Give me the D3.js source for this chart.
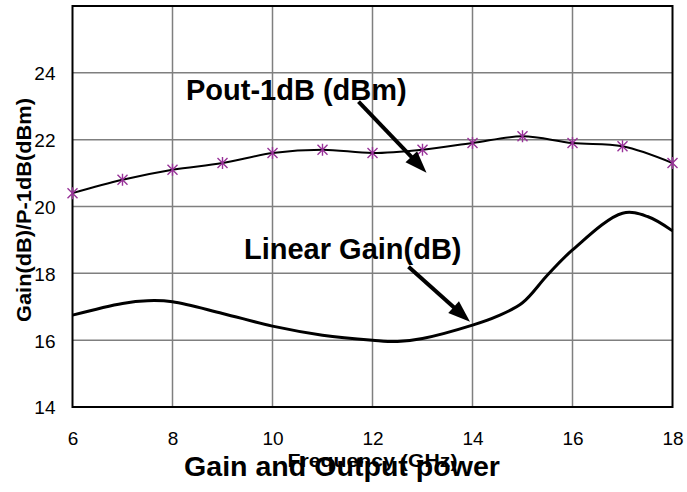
<!DOCTYPE html>
<html>
<head>
<meta charset="utf-8">
<script src="https://cdn.jsdelivr.net/npm/d3@7"></script>
<style>
  html, body { margin: 0; padding: 0; background: #ffffff; }
  svg { display: block; font-family: Arial, "Liberation Sans", sans-serif; }
</style>
</head>
<body>
<svg id="chart" width="687" height="492"></svg>
<script>
// ---- data ----
const poutFreq = [6, 7, 8, 9, 10, 11, 12, 13, 14, 15, 16, 17, 18];
const poutValues = [20.4, 20.8, 21.1, 21.3, 21.6, 21.7, 21.6, 21.7, 21.9, 22.1, 21.9, 21.8, 21.3];
const gainFreq = [6, 7, 7.5, 8, 9, 10, 11, 12, 12.5, 13, 14, 14.5, 15, 15.5, 16, 17, 17.5, 18];
const gainValues = [16.75, 17.1, 17.18, 17.15, 16.8, 16.42, 16.15, 16.0, 15.96, 16.05, 16.45, 16.72, 17.12, 17.95, 18.7, 19.8, 19.7, 19.27];
const xTicks = [6, 8, 10, 12, 14, 16, 18];
const yTicks = [14, 16, 18, 20, 22, 24];
const xDomain = [6, 18];
const yDomain = [14, 26];
const titleText = "Gain and Output power";
const xLabelText = "Frequency (GHz)";
const yLabelText = "Gain(dB)/P-1dB(dBm)";
const poutLabel = { text: "Pout-1dB (dBm)", x: 8.27, y: 23.19, arrow: [[11.72, 23.14], [13.08, 21.01]] };
const gainLabel = { text: "Linear Gain(dB)", x: 9.43, y: 18.43, arrow: [[12.72, 18.2], [13.95, 16.55]] };

// ---- layout ----
const svg = d3.select("#chart");
const x = d3.scaleLinear().domain(xDomain).range([72.5, 672.5]);
const y = d3.scaleLinear().domain(yDomain).range([407, 6]);

svg.append("rect").attr("width", 687).attr("height", 492).attr("fill", "#fff");

// grid
const grid = svg.append("g");
grid.selectAll("line.v").data(xTicks.slice(1, -1)).join("line")
  .attr("x1", d => x(d)).attr("x2", d => x(d))
  .attr("y1", y(yDomain[0])).attr("y2", y(yDomain[1]))
  .attr("stroke", "#7f7f7f").attr("stroke-width", 1.5);
grid.selectAll("line.h").data(yTicks.slice(1)).join("line")
  .attr("x1", x(xDomain[0])).attr("x2", x(xDomain[1]))
  .attr("y1", d => y(d)).attr("y2", d => y(d))
  .attr("stroke", "#7f7f7f").attr("stroke-width", 1.5);

// border
svg.append("rect")
  .attr("x", x(xDomain[0])).attr("y", y(yDomain[1]))
  .attr("width", x(xDomain[1]) - x(xDomain[0]))
  .attr("height", y(yDomain[0]) - y(yDomain[1]))
  .attr("fill", "none").attr("stroke", "#000").attr("stroke-width", 2);

// axes (labels only)
const xAxis = d3.axisBottom(x).tickValues(xTicks).tickSize(0).tickPadding(0).tickFormat(d3.format("d"));
const gx = svg.append("g").attr("transform", `translate(0,${y(yDomain[0])})`).call(xAxis);
gx.select(".domain").remove();
gx.selectAll("text").attr("font-size", 19).attr("fill", "#000")
  .attr("font-family", "Arial, 'Liberation Sans', sans-serif")
  .attr("dy", null).attr("y", 38);

const yAxis = d3.axisLeft(y).tickValues(yTicks).tickSize(0).tickPadding(0).tickFormat(d3.format("d"));
const gy = svg.append("g").attr("transform", `translate(${x(xDomain[0])},0)`).call(yAxis);
gy.select(".domain").remove();
gy.selectAll("text").attr("font-size", 19).attr("fill", "#000")
  .attr("font-family", "Arial, 'Liberation Sans', sans-serif")
  .attr("x", -17).attr("dy", "0.36em");

// lines
const line = d3.line().x(d => x(d[0])).y(d => y(d[1])).curve(d3.curveCatmullRom.alpha(0.5));
svg.append("path")
  .datum(gainFreq.map((f, i) => [f, gainValues[i]]))
  .attr("d", line).attr("fill", "none").attr("stroke", "#000").attr("stroke-width", 3);
svg.append("path")
  .datum(poutFreq.map((f, i) => [f, poutValues[i]]))
  .attr("d", line).attr("fill", "none").attr("stroke", "#000").attr("stroke-width", 2);

// markers (asterisk)
const s = 5;
svg.append("g").selectAll("path").data(poutFreq.map((f, i) => [f, poutValues[i]])).join("path")
  .attr("d", d => {
    const cx = x(d[0]), cy = y(d[1]);
    return `M${cx - s},${cy - s}L${cx + s},${cy + s}M${cx - s},${cy + s}L${cx + s},${cy - s}M${cx},${cy - s - 1}L${cx},${cy + s + 1}`;
  })
  .attr("stroke", "#993399").attr("stroke-width", 1.4).attr("fill", "none");

// annotations
function annotate(a) {
  svg.append("text").attr("x", x(a.x)).attr("y", y(a.y))
    .attr("font-size", 29).attr("font-weight", "bold").attr("fill", "#000")
    .text(a.text);
  const [p0, p1] = a.arrow.map(p => [x(p[0]), y(p[1])]);
  const ang = Math.atan2(p1[1] - p0[1], p1[0] - p0[0]);
  const L = 22, W = 8;
  const bx = p1[0] - L * Math.cos(ang), by = p1[1] - L * Math.sin(ang);
  svg.append("line").attr("x1", p0[0]).attr("y1", p0[1]).attr("x2", bx + 4 * Math.cos(ang)).attr("y2", by + 4 * Math.sin(ang))
    .attr("stroke", "#000").attr("stroke-width", 4);
  svg.append("path")
    .attr("d", `M${p1[0]},${p1[1]}L${bx - W * Math.sin(ang)},${by + W * Math.cos(ang)}L${bx + W * Math.sin(ang)},${by - W * Math.cos(ang)}Z`)
    .attr("fill", "#000");
}
annotate(poutLabel);
annotate(gainLabel);

// axis titles
svg.append("text")
  .attr("transform", `translate(31,210) rotate(-90)`)
  .attr("text-anchor", "middle").attr("font-size", 21).attr("font-weight", "bold")
  .attr("textLength", 224).attr("lengthAdjust", "spacingAndGlyphs")
  .text(yLabelText);

svg.append("text")
  .attr("x", 184).attr("y", 476)
  .attr("font-size", 28).attr("font-weight", "bold")
  .attr("textLength", 316).attr("lengthAdjust", "spacingAndGlyphs")
  .text(titleText);

svg.append("text")
  .attr("x", (x(xDomain[0]) + x(xDomain[1])) / 2).attr("y", 467)
  .attr("text-anchor", "middle").attr("font-size", 19).attr("font-weight", "bold")
  .attr("textLength", 170).attr("lengthAdjust", "spacingAndGlyphs")
  .text(xLabelText);
</script>
</body>
</html>
